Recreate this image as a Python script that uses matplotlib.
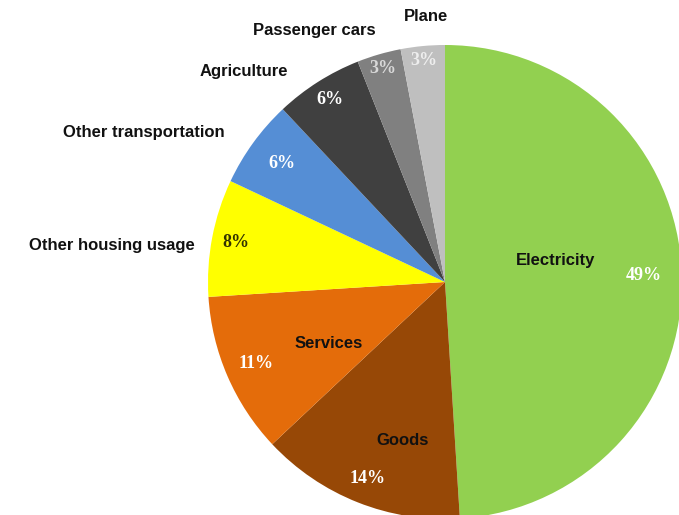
import matplotlib
matplotlib.use("Agg")
import matplotlib.pyplot as plt
import numpy as np

# emission shares by source, in percent
categories = ["Electricity", "Goods", "Services", "Other housing usage",
              "Other transportation", "Agriculture", "Passenger cars", "Plane"]
shares = [49, 14, 11, 8, 6, 6, 3, 3]

colors = ["#92D050", "#974806", "#E46C0A", "#FFFF00",
          "#558ED5", "#404040", "#808080", "#BFBFBF"]
pct_colors = ["white", "white", "white", "#333300",
              "white", "white", "#d8d8d8", "#eeeeee"]

# where each category name goes (data units, pie radius = 1)
label_pos = {
    "Electricity": (0.465, 0.09, "center"),
    "Goods": (-0.18, -0.67, "center"),
    "Services": (-0.49, -0.26, "center"),
    "Other housing usage": (-1.055, 0.155, "right"),
    "Other transportation": (-0.93, 0.63, "right"),
    "Agriculture": (-0.85, 0.89, "center"),
    "Passenger cars": (-0.55, 1.06, "center"),
    "Plane": (-0.08, 1.12, "center"),
}
pct_dist = [0.84, 0.89, 0.87, 0.90, 0.85, 0.91, 0.94, 0.94]

fig = plt.figure(figsize=(6.79, 5.15), dpi=100)
W, H = 679, 515
cx, cy, r = 445, 282, 237
ax = fig.add_axes([(cx - r) / W, (H - cy - r) / H, 2 * r / W, 2 * r / H])

wedges, _ = ax.pie(shares, colors=colors, startangle=90, counterclock=False,
                   radius=1.0, wedgeprops=dict(linewidth=0))
ax.set_xlim(-1, 1)
ax.set_ylim(-1, 1)
ax.set_aspect("equal")
ax.axis("off")

for w, val, d, pc in zip(wedges, shares, pct_dist, pct_colors):
    mid = np.deg2rad((w.theta1 + w.theta2) / 2)
    ax.text(d * np.cos(mid), d * np.sin(mid), f"{val}%", ha="center", va="center",
            color=pc, fontsize=13, fontweight="bold", family="Liberation Serif",
            clip_on=False)

for name in categories:
    x, y, ha = label_pos[name]
    ax.text(x, y, name, ha=ha, va="center", fontsize=12, fontweight="bold",
            family="Liberation Sans", color="#111111", clip_on=False)

fig.savefig("out.png", dpi=100, facecolor="white")
